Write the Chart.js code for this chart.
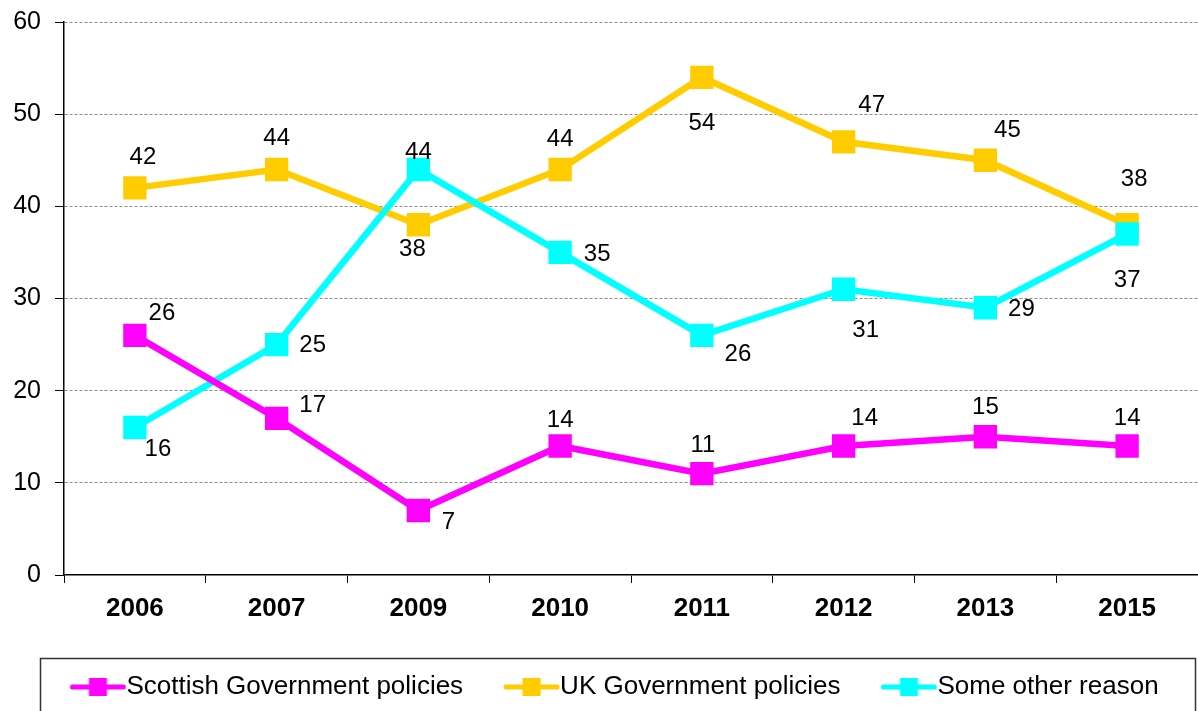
<!DOCTYPE html>
<html>
<head>
<meta charset="utf-8">
<title>Reasons given</title>
<script src="https://cdn.jsdelivr.net/npm/chart.js@4"></script>
<style>
  html, body { margin: 0; padding: 0; background: #fff; }
  #wrap { width: 1198px; height: 711px; }
</style>
</head>
<body>
<div id="wrap"><canvas id="chart" width="1198" height="711"></canvas></div>
<script>
// Survey years and series values
const years = ['2006', '2007', '2009', '2010', '2011', '2012', '2013', '2015'];
const scottishPolicies = [26, 17, 7, 14, 11, 14, 15, 14];
const ukPolicies = [42, 44, 38, 44, 54, 47, 45, 38];
const otherReason = [16, 25, 44, 35, 26, 31, 29, 37];
const yTicks = [0, 10, 20, 30, 40, 50, 60];

// Value label placement, [dx, dy] from the point centre
const scottishLabelPos = [[27, -22], [36, -13], [30, 12], [0, -26], [1, -28], [21, -28], [0, -29], [0, -28]];
const ukLabelPos = [[8, -31], [0, -31], [-6, 25], [0, -30], [0, 46], [28, -36], [22, -30], [7, -45]];
const otherLabelPos = [[23, 22], [36, 1], [0, -17], [37, 2], [36, 19], [22, 41], [36, 2], [0, 46]];

const FONT = '"Liberation Sans", Arial, sans-serif';
const MAGENTA = '#ff00ff';
const GOLD = '#ffcc00';
const CYAN = '#00ffff';

// legend geometry
const LEGEND_FONT = 26;
const LEGEND_BOX = 74;
const MARKER_LEN = 57;

// Legend marker: a short thick line with a square in the middle,
// drawn at the right end of a wider image so it butts onto the text
function legendMarker(color) {
  const c = document.createElement('canvas');
  c.width = LEGEND_BOX + LEGEND_FONT;
  c.height = 22;
  const ctx = c.getContext('2d');
  const x0 = c.width - MARKER_LEN;
  ctx.strokeStyle = color;
  ctx.lineWidth = 5;
  ctx.lineCap = 'round';
  ctx.beginPath();
  ctx.moveTo(x0 + 3, 11);
  ctx.lineTo(c.width - 3, 11);
  ctx.stroke();
  ctx.fillStyle = color;
  ctx.fillRect(x0 + MARKER_LEN / 2 - 9, 2, 18, 18);
  return c;
}

// Draws the numbers next to each point
const valueLabels = {
  id: 'valueLabels',
  afterDatasetsDraw(chart) {
    const ctx = chart.ctx;
    ctx.save();
    ctx.font = '24px ' + FONT;
    ctx.fillStyle = '#000';
    ctx.textAlign = 'center';
    ctx.textBaseline = 'middle';
    chart.data.datasets.forEach((ds, di) => {
      const meta = chart.getDatasetMeta(di);
      meta.data.forEach((pt, i) => {
        const off = ds.labelPos[i];
        ctx.fillText(String(ds.data[i]), pt.x + off[0], pt.y + off[1]);
      });
    });
    ctx.restore();
  }
};

// Frame round the legend
const legendFrame = {
  id: 'legendFrame',
  afterDraw(chart) {
    const ctx = chart.ctx;
    const lg = chart.legend;
    ctx.save();
    ctx.strokeStyle = '#333';
    ctx.lineWidth = 1.5;
    ctx.strokeRect(40.5, lg.top - 5.5, 1155, 80);
    ctx.restore();
  }
};

const ctx = document.getElementById('chart').getContext('2d');

new Chart(ctx, {
  type: 'line',
  data: {
    labels: years,
    datasets: [
      {
        label: 'Scottish Government policies',
        data: scottishPolicies,
        labelPos: scottishLabelPos,
        borderColor: MAGENTA,
        backgroundColor: MAGENTA,
        order: 0
      },
      {
        label: 'UK Government policies',
        data: ukPolicies,
        labelPos: ukLabelPos,
        borderColor: GOLD,
        backgroundColor: GOLD,
        order: 2
      },
      {
        label: 'Some other reason',
        data: otherReason,
        labelPos: otherLabelPos,
        borderColor: CYAN,
        backgroundColor: CYAN,
        order: 1
      }
    ]
  },
  options: {
    responsive: false,
    animation: false,
    events: [],
    layout: {
      autoPadding: false,
      padding: { top: 22, right: 0, bottom: 1, left: 0 }
    },
    elements: {
      line: { borderWidth: 6.5, tension: 0 },
      point: { pointStyle: 'rect', radius: 16.5, borderWidth: 0 }
    },
    plugins: {
      tooltip: { enabled: false },
      legend: {
        position: 'bottom',
        align: 'center',
        labels: {
          usePointStyle: true,
          pointStyleWidth: LEGEND_BOX,
          padding: 10,
          color: '#000',
          font: { family: FONT, size: LEGEND_FONT },
          generateLabels(chart) {
            return chart.data.datasets.map((ds, i) => ({
              text: ds.label,
              pointStyle: legendMarker(ds.borderColor),
              fillStyle: ds.borderColor,
              strokeStyle: ds.borderColor,
              lineWidth: 0,
              hidden: false,
              datasetIndex: i
            }));
          }
        }
      }
    },
    scales: {
      x: {
        offset: true,
        grid: {
          offset: true,
          drawOnChartArea: false,
          tickLength: 8,
          tickColor: '#000'
        },
        border: { color: '#000', width: 1.5 },
        ticks: {
          color: '#000',
          padding: 10,
          maxRotation: 0,
          font: { family: FONT, size: 26, weight: 'bold' }
        },
        afterFit(scale) {
          scale.height = 89;
          scale.paddingLeft = 0;
          scale.paddingRight = 0;
        }
      },
      y: {
        min: 0,
        max: 60,
        afterBuildTicks(scale) { scale.ticks = yTicks.map(v => ({ value: v })); },
        grid: {
          color: c => (c.tick && c.tick.value === 0 ? 'rgba(0,0,0,0)' : '#8c8c8c'),
          tickColor: '#000',
          tickLength: 9,
          tickBorderDash: []
        },
        border: { color: '#000', width: 1.5, dash: [3, 2] },
        ticks: {
          color: '#000',
          padding: 14,
          font: { family: FONT, size: 25 }
        },
        afterFit(scale) {
          scale.width = 64;
          scale.paddingTop = 0;
          scale.paddingBottom = 0;
        }
      }
    }
  },
  plugins: [valueLabels, legendFrame]
});
</script>
</body>
</html>
